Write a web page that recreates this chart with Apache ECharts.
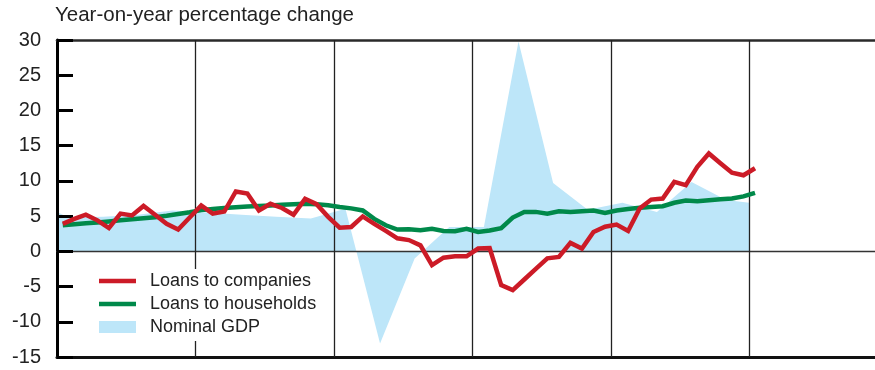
<!DOCTYPE html>
<html>
<head>
<meta charset="utf-8">
<script src="https://cdn.jsdelivr.net/npm/echarts@6/dist/echarts.min.js"></script>
<style>
  html, body { margin: 0; padding: 0; background: #ffffff; }
  #chart { width: 875px; height: 370px; }
</style>
</head>
<body>
<div id="chart"></div>
<script>
// ---- Data (monthly loans, quarterly GDP; x measured in months from start of axis) ----
const yTicks = [-15, -10, -5, 0, 5, 10, 15, 20, 25, 30];
const yearBoundaryMonths = [12, 24, 36, 48, 60];

const loansCompanies = [
  3.9, 4.6, 5.2, 4.4, 3.3, 5.35, 5.1, 6.45, 5.2, 3.9, 3.1, 4.8,
  6.5, 5.35, 5.65, 8.5, 8.2, 5.8, 6.75, 6.15, 5.2, 7.45, 6.7, 4.9,
  3.35, 3.45, 4.95, 3.9, 2.9, 1.85, 1.6, 0.85, -1.95, -0.9, -0.7, -0.7,
  0.4, 0.45, -4.8, -5.5, -4.0, -2.5, -1.0, -0.8, 1.2, 0.4, 2.75, 3.5,
  3.8, 2.9, 6.1, 7.35, 7.5, 9.85, 9.4, 12.0, 13.9, 12.5, 11.15, 10.8,
  11.8
];

const loansHouseholds = [
  3.7, 3.85, 4.0, 4.1, 4.25, 4.4, 4.55, 4.7, 4.85, 5.05, 5.3, 5.55,
  5.85, 6.0, 6.15, 6.25, 6.35, 6.45, 6.5, 6.6, 6.7, 6.75, 6.7, 6.55,
  6.3, 6.1, 5.8, 4.6, 3.7, 3.1, 3.15, 3.0, 3.2, 2.9, 2.85, 3.2,
  2.75, 2.95, 3.3, 4.8, 5.6, 5.6, 5.35, 5.7, 5.6, 5.7, 5.8, 5.45,
  5.8, 6.0, 6.2, 6.3, 6.4, 6.9, 7.2, 7.1, 7.25, 7.4, 7.5, 7.8,
  8.3
];

const gdpMonths = [0, 1, 4, 7, 10, 13, 16, 19, 22, 25, 28, 31, 34, 37, 40, 43, 46, 49, 52, 55, 58, 60];
const nominalGDP = [5.6, 4.8, 4.9, 5.2, 5.8, 5.5, 5.2, 4.9, 4.65, 6.05, -13.1, -1.0, 3.45, 3.45, 29.8, 9.7, 5.9, 6.9, 5.6, 9.85, 7.3, 6.9];

const seriesNames = ['Loans to companies', 'Loans to households', 'Nominal GDP'];
const titleText = 'Year-on-year percentage change';

// ---- Build ----
const FONT = '"Liberation Sans", Arial, Helvetica, sans-serif';
const RED = '#cc1b27';
const GREEN = '#00894a';
const BLUE = '#bde6f9';
const X_MAX = 70.9;   // visible part of the 6-year month axis (reference is cropped on the right)
const PLOT_H = 317;

const monthlyPoints = arr => arr.map((v, i) => [i + 0.5, v]);
const gdpPoints = gdpMonths.map((m, i) => [m, nominalGDP[i]]);

const baseX = { type: 'value', min: 0, max: X_MAX, interval: 12 };
const lineIcon = 'path://M0 0H74V9H0Z';

const chart = echarts.init(document.getElementById('chart'), null, { renderer: 'canvas' });
chart.setOption({
  animation: false,
  backgroundColor: '#ffffff',
  title: {
    text: titleText,
    left: 55, top: 5, padding: 0,
    textStyle: { fontFamily: FONT, fontSize: 20.5, fontWeight: 'normal', color: '#222' }
  },
  grid: { left: 57, right: 0, top: 40, bottom: 13, containLabel: false },
  legend: {
    orient: 'vertical',
    left: 90, top: 269,
    padding: [3, 8, 5, 9],
    backgroundColor: '#ffffff',
    itemWidth: 37, itemHeight: 12, itemGap: 5,
    symbolKeepAspect: true,
    textStyle: { fontFamily: FONT, fontSize: 18, color: '#222', padding: [0, 0, 0, 9] },
    data: [
      { name: seriesNames[0], icon: lineIcon, itemStyle: { color: RED } },
      { name: seriesNames[1], icon: lineIcon, itemStyle: { color: GREEN } },
      { name: seriesNames[2], icon: 'rect', itemStyle: { color: BLUE } }
    ]
  },
  xAxis: [
    Object.assign({}, baseX, {
      position: 'bottom',
      axisLine: { show: true, onZero: false, lineStyle: { color: '#111', width: 3 } },
      // year-boundary verticals drawn as full-height inside ticks
      axisTick: { show: true, inside: true, length: PLOT_H, customValues: yearBoundaryMonths, lineStyle: { color: '#222', width: 1.3 } },
      axisLabel: { show: false },
      splitLine: { show: false }
    }),
    Object.assign({}, baseX, {
      position: 'bottom',
      axisLine: { show: true, onZero: true, lineStyle: { color: '#333', width: 1.3 } },
      axisTick: { show: false }, axisLabel: { show: false }, splitLine: { show: false }
    }),
    Object.assign({}, baseX, {
      position: 'top',
      axisLine: { show: true, onZero: false, lineStyle: { color: '#2a2a2a', width: 2.6 } },
      axisTick: { show: false }, axisLabel: { show: false }, splitLine: { show: false }
    })
  ],
  yAxis: {
    type: 'value',
    min: yTicks[0], max: yTicks[yTicks.length - 1], interval: 5,
    axisLine: { show: true, lineStyle: { color: '#000', width: 3 } },
    axisTick: { show: true, inside: true, length: 16, lineStyle: { color: '#000', width: 3 } },
    axisLabel: { margin: 16, fontFamily: FONT, fontSize: 20, color: '#222' },
    splitLine: { show: false }
  },
  series: [
    {
      name: seriesNames[2], type: 'line', xAxisIndex: 0,
      data: gdpPoints, symbol: 'none', z: -1,
      color: BLUE,
      lineStyle: { width: 0, color: BLUE },
      itemStyle: { color: BLUE },
      areaStyle: { color: BLUE, opacity: 1 }
    },
    {
      name: seriesNames[1], type: 'line', xAxisIndex: 0,
      data: monthlyPoints(loansHouseholds), symbol: 'none', z: 3,
      color: GREEN,
      lineStyle: { width: 4.5, color: GREEN, join: 'miter' }
    },
    {
      name: seriesNames[0], type: 'line', xAxisIndex: 0,
      data: monthlyPoints(loansCompanies), symbol: 'none', z: 4,
      color: RED,
      lineStyle: { width: 4.5, color: RED, join: 'miter' }
    }
  ]
});
</script>
</body>
</html>
